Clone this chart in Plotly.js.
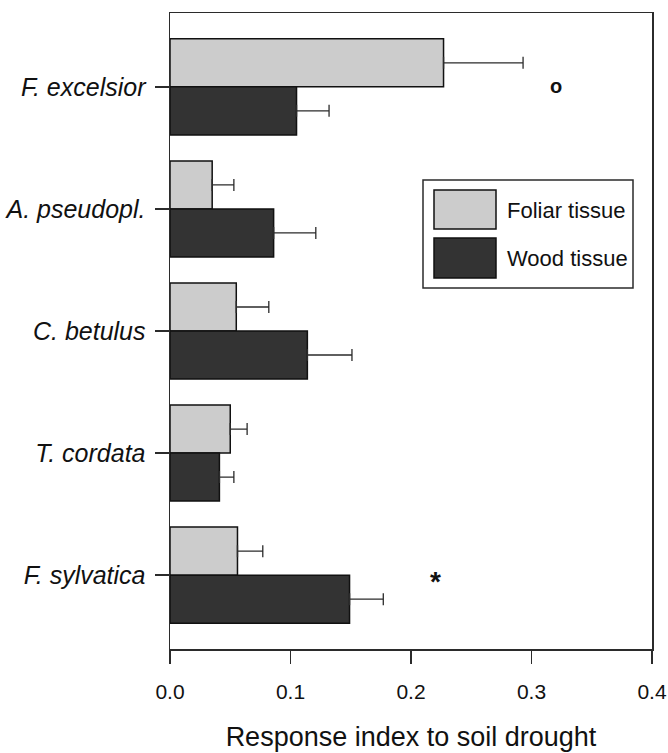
<!DOCTYPE html>
<html>
<head>
<meta charset="utf-8">
<script src="https://cdn.plot.ly/plotly-3.0.1.min.js"></script>
<style>
  html, body { margin: 0; padding: 0; background: #ffffff; }
  #chart { width: 668px; height: 753px; }
</style>
</head>
<body>
<div id="chart"></div>
<script>
// Species, listed top to bottom
const species = ["F. excelsior", "A. pseudopl.", "C. betulus", "T. cordata", "F. sylvatica"];

// Response index to soil drought and its standard error (drawn one-sided)
const foliar = [0.227, 0.035, 0.055, 0.050, 0.056];
const foliarErr = [0.066, 0.018, 0.027, 0.014, 0.021];
const wood = [0.105, 0.086, 0.114, 0.041, 0.149];
const woodErr = [0.027, 0.035, 0.037, 0.012, 0.028];

const seriesNames = ["Foliar tissue", "Wood tissue"];

// Significance marks: symbol, x position, species
const marks = ["o", "*"];
const markX = [0.320, 0.220];
const markSpecies = ["F. excelsior", "F. sylvatica"];

const lightFill = "#cccccc";
const darkFill = "#333333";
const ink = "#2b2b2b";
const FONT = "Liberation Sans, Arial, sans-serif";

function barTrace(name, values, errs, fill) {
  return {
    type: "bar",
    orientation: "h",
    name: name,
    y: species,
    x: values,
    marker: { color: fill, line: { color: "#111111", width: 1.5 } },
    error_x: {
      type: "data", symmetric: false, array: errs, arrayminus: errs.map(() => 0),
      visible: true, color: ink, thickness: 1.3, width: 6
    },
    showlegend: false,
    hoverinfo: "x+y+name"
  };
}

const traces = [
  barTrace(seriesNames[0], foliar, foliarErr, lightFill),
  barTrace(seriesNames[1], wood, woodErr, darkFill)
];

// Plot area in pixels, used to place the boxed key
const L = 170, R = 16, T = 13, B = 104, W = 668, H = 753;
const pw = W - L - R, ph = H - T - B;
const px = v => (v - L) / pw;
const py = v => (H - B - v) / ph;

const shapes = [
  // key frame
  { type: "rect", xref: "paper", yref: "paper", x0: px(423), x1: px(633), y0: py(288), y1: py(180),
    line: { color: ink, width: 1.5 }, fillcolor: "#ffffff", layer: "above" },
  // key swatches
  { type: "rect", xref: "paper", yref: "paper", x0: px(434), x1: px(496), y0: py(229), y1: py(190),
    line: { color: "#111111", width: 1.5 }, fillcolor: lightFill, layer: "above" },
  { type: "rect", xref: "paper", yref: "paper", x0: px(434), x1: px(496), y0: py(278), y1: py(238),
    line: { color: "#111111", width: 1.5 }, fillcolor: darkFill, layer: "above" }
];

const annotations = [
  { xref: "paper", yref: "paper", x: px(505), y: py(210), xanchor: "left", yanchor: "middle",
    text: seriesNames[0], showarrow: false, font: { family: FONT, size: 22, color: "#111" } },
  { xref: "paper", yref: "paper", x: px(505), y: py(258), xanchor: "left", yanchor: "middle",
    text: seriesNames[1], showarrow: false, font: { family: FONT, size: 22, color: "#111" } }
];

marks.forEach((m, i) => {
  const star = m === "*";
  annotations.push({
    xref: "x", yref: "y", x: markX[i], y: markSpecies[i], text: m, showarrow: false,
    xanchor: "center", yanchor: "middle",
    yshift: star ? -6 : 1,
    font: { family: FONT, size: star ? 28 : 20, color: "#111", weight: "bold" }
  });
});

const layout = {
  width: W, height: H,
  margin: { l: L, r: R, t: T, b: B },
  paper_bgcolor: "#ffffff",
  plot_bgcolor: "#ffffff",
  barmode: "group",
  bargap: 0.213,
  bargroupgap: 0,
  font: { family: FONT, color: "#111" },
  xaxis: {
    range: [0, 0.4],
    tickvals: [0, 0.1, 0.2, 0.3, 0.4],
    tickformat: ".1f",
    ticks: "outside", ticklen: 13, tickwidth: 1.5, tickcolor: ink,
    showline: true, linecolor: ink, linewidth: 1.5, mirror: true,
    showgrid: false, zeroline: false,
    tickfont: { size: 21, color: "#111" },
    ticklabelstandoff: 10,
    title: { text: "Response index to soil drought", font: { size: 27, color: "#111" }, standoff: 25 },
    automargin: false, fixedrange: true
  },
  yaxis: {
    type: "category",
    categoryorder: "array", categoryarray: species,
    range: [4.605, -0.605],
    ticks: "outside", ticklen: 14, tickwidth: 1.5, tickcolor: ink,
    showline: true, linecolor: ink, linewidth: 1.5, mirror: true,
    showgrid: false, zeroline: false,
    tickfont: { size: 25, color: "#111", style: "italic" },
    ticklabelstandoff: 4,
    automargin: false, fixedrange: true
  },
  shapes: shapes,
  annotations: annotations
};

Plotly.newPlot("chart", traces, layout, { displayModeBar: false, staticPlot: true });
</script>
</body>
</html>
